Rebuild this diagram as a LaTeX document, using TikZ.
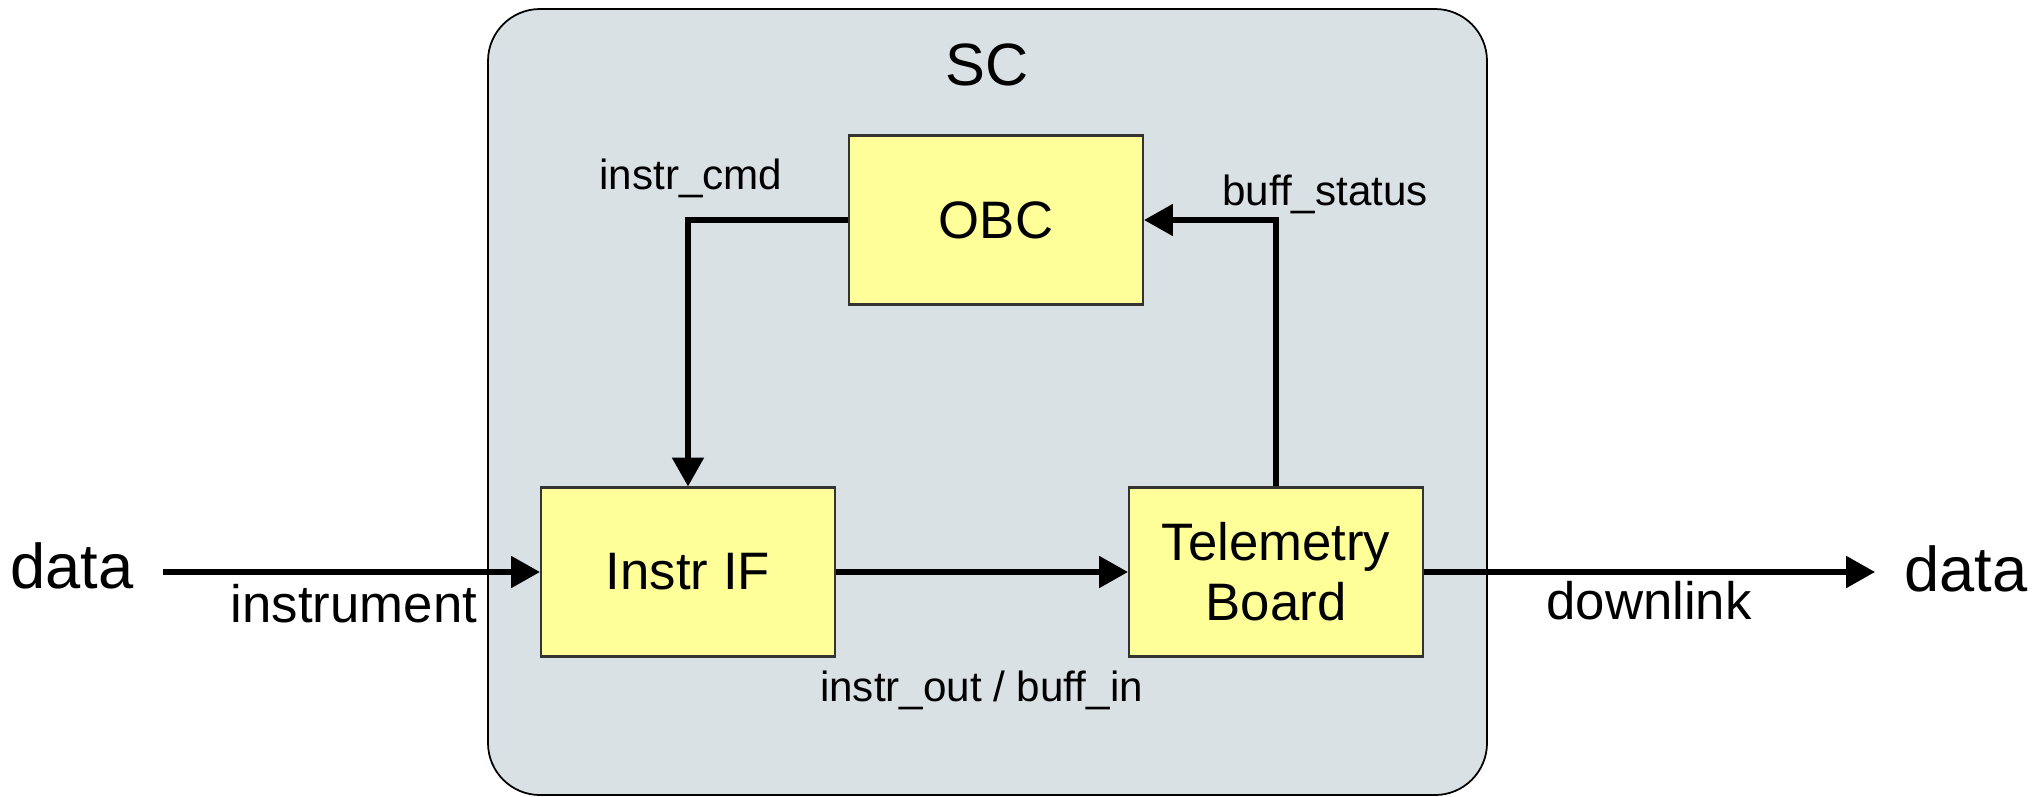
\documentclass[tikz,border=0pt]{standalone}
\usepackage{fontspec}
\setmainfont{Liberation Sans}
\usetikzlibrary{arrows.meta}

\definecolor{scgray}{HTML}{DAE1E5}
\definecolor{boxyellow}{HTML}{FFFF99}

\begin{document}
\begin{tikzpicture}[
    block/.style={draw=black!80, fill=boxyellow, line width=0.6pt,
        minimum width=2.94cm, minimum height=1.69cm, align=center,
        font=\fontsize{15}{17}\selectfont},
    signal/.style={line width=1.5pt, -{Triangle[length=8.2pt,width=8.8pt]}},
    small/.style={font=\fontsize{12}{14}\selectfont},
    medium/.style={font=\fontsize{15}{18}\selectfont},
    large/.style={font=\fontsize{18}{22}\selectfont}
]
    \useasboundingbox (0,0) rectangle (20.41,-7.96);

    % Spacecraft outline
    \node (sc) at (9.875,-4.02) [draw, fill=scgray, rounded corners=0.52cm,
        minimum width=9.99cm, minimum height=7.86cm, line width=0.5pt] {};
    \node (sclabel) at (9.87,-0.65) [font=\fontsize{17}{20}\selectfont] {SC};

    % Boards
    \node (obc) at (9.96,-2.20) [block] {OBC};
    \node (instrif) at (6.88,-5.72) [block] {Instr IF};
    \node (telemetry) at (12.76,-5.72) [block] {Telemetry\\Board};

    % Outside ends
    \node (datain) at (0.72,-5.66) [large] {data};
    \node (dataout) at (19.66,-5.69) [large] {data};
    \coordinate (src) at (1.63,-5.72);
    \coordinate (sink) at (18.75,-5.72);

    % Signals
    \draw[signal] (src) -- (instrif);
    \draw[signal] (instrif) -- (telemetry);
    \draw[signal] (telemetry) -- (sink);
    \draw[signal] (obc.west) -| (instrif.north);
    \draw[signal] (telemetry.north) |- (obc.east);

    \node (instrument) at (3.54,-6.04) [medium] {instrument};
    \node (downlink) at (16.49,-6.01) [medium] {downlink};
    \node (cmd) at (6.91,-1.78) [small] {instr\_cmd};
    \node (status) at (13.25,-1.94) [small] {buff\_status};
    \node (buffer) at (9.815,-6.90) [small] {instr\_out / buff\_in};

\end{tikzpicture}
\end{document}
